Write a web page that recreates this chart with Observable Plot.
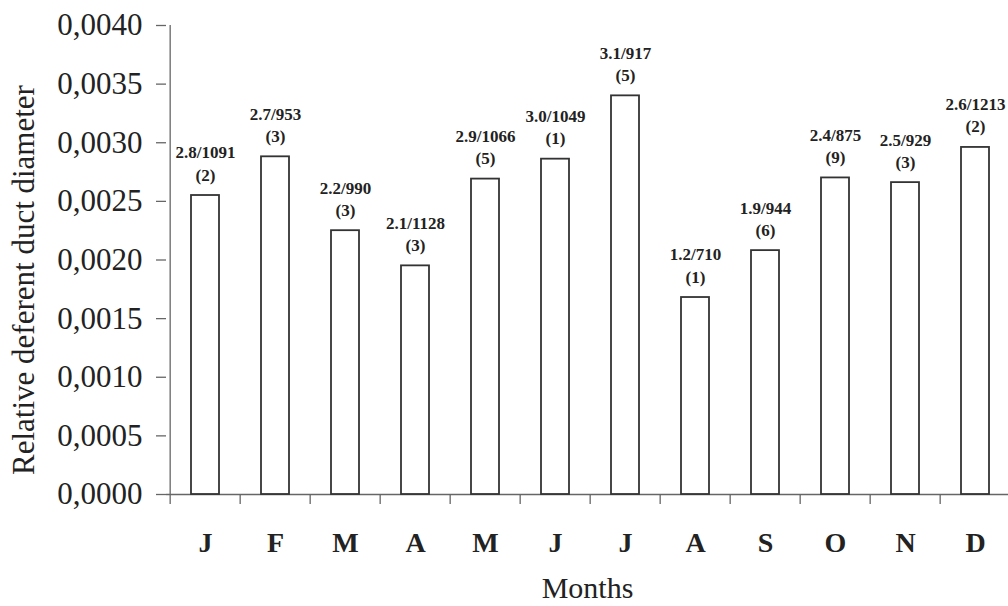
<!DOCTYPE html>
<html>
<head>
<meta charset="utf-8">
<script src="https://cdn.jsdelivr.net/npm/d3@7"></script>
<script src="https://cdn.jsdelivr.net/npm/@observablehq/plot@0.6"></script>
<style>
  html, body { margin: 0; padding: 0; background: white; overflow: hidden; }
  svg text { font-family: "Liberation Serif", "Times New Roman", serif; }
</style>
</head>
<body>
<div id="chart"></div>
<script>
const monthKeys = ["Jan","Feb","Mar","Apr","May","Jun","Jul","Aug","Sep","Oct","Nov","Dec"];
const monthLabels = ["J","F","M","A","M","J","J","A","S","O","N","D"];
const values = [0.00255, 0.00288, 0.00225, 0.00195, 0.00269, 0.00286, 0.00340, 0.00168, 0.00208, 0.00270, 0.00266, 0.00296];
const ratioLabels = ["2.8/1091","2.7/953","2.2/990","2.1/1128","2.9/1066","3.0/1049","3.1/917","1.2/710","1.9/944","2.4/875","2.5/929","2.6/1213"];
const counts = [2, 3, 3, 3, 5, 1, 5, 1, 6, 9, 3, 2];
const yTicks = [0, 0.0005, 0.001, 0.0015, 0.002, 0.0025, 0.003, 0.0035, 0.004];
const yTitle = "Relative deferent duct diameter";
const xTitle = "Months";

const data = monthKeys.map((k, i) => ({
  key: k,
  label: monthLabels[i],
  value: values[i],
  note: ratioLabels[i] + "\n(" + counts[i] + ")"
}));

const W = 1008, H = 606;
const x0 = 166, x1 = 1014;
const step = (x1 - x0) / monthKeys.length;
const font = "Liberation Serif, Times New Roman, serif";

const chart = Plot.plot({
  width: W,
  height: H,
  marginTop: 25,
  marginBottom: 112,
  marginLeft: 166,
  marginRight: 0,
  style: {fontFamily: font, fontSize: "31px", background: "white", color: "#222", overflow: "hidden"},
  x: {domain: monthKeys, range: [x0, x1], paddingInner: 0.6, paddingOuter: 0.3, axis: null},
  y: {domain: [0, 0.004], axis: null},
  marks: [
    Plot.axisY({ticks: yTicks, tickFormat: d => d.toFixed(4).replace(".", ","),
      tickSize: 10, tickPadding: 14, label: null, fontSize: 31, fontFamily: font,
      stroke: "#666", strokeWidth: 1.3, fill: "#222"}),
    Plot.ruleY([0], {stroke: "#666", strokeWidth: 1.3}),
    Plot.ruleX([monthKeys[0]], {dx: -step / 2, y1: 0, y2: 0.004, stroke: "#666", strokeWidth: 1.3}),
    Plot.axisX({tickSize: 10, tickFormat: () => "", label: null, dx: -step / 2, stroke: "#666", strokeWidth: 1.3}),
    Plot.barY(data, {x: "key", y: "value", fill: "white", stroke: "#333", strokeWidth: 1.8}),
    Plot.text(data, {x: "key", y: "value", text: "note", lineAnchor: "bottom", dy: -15,
      lineHeight: 1.3, fontSize: 17, fontWeight: "bold", fontFamily: font, fill: "#222"}),
    Plot.text(data, {x: "key", text: "label", frameAnchor: "bottom", dy: 49, lineAnchor: "middle",
      fontSize: 28, fontWeight: "bold", fontFamily: font, fill: "#222"}),
    Plot.text([xTitle], {frameAnchor: "bottom", dy: 94, lineAnchor: "middle", fontSize: 30, fontFamily: font, fill: "#222"}),
    Plot.text([yTitle], {frameAnchor: "left", textAnchor: "middle", rotate: -90, dx: -142, dy: 20,
      lineAnchor: "middle", fontSize: 31, fontFamily: font, fill: "#222"})
  ]
});
document.getElementById("chart").appendChild(chart);
</script>
</body>
</html>
